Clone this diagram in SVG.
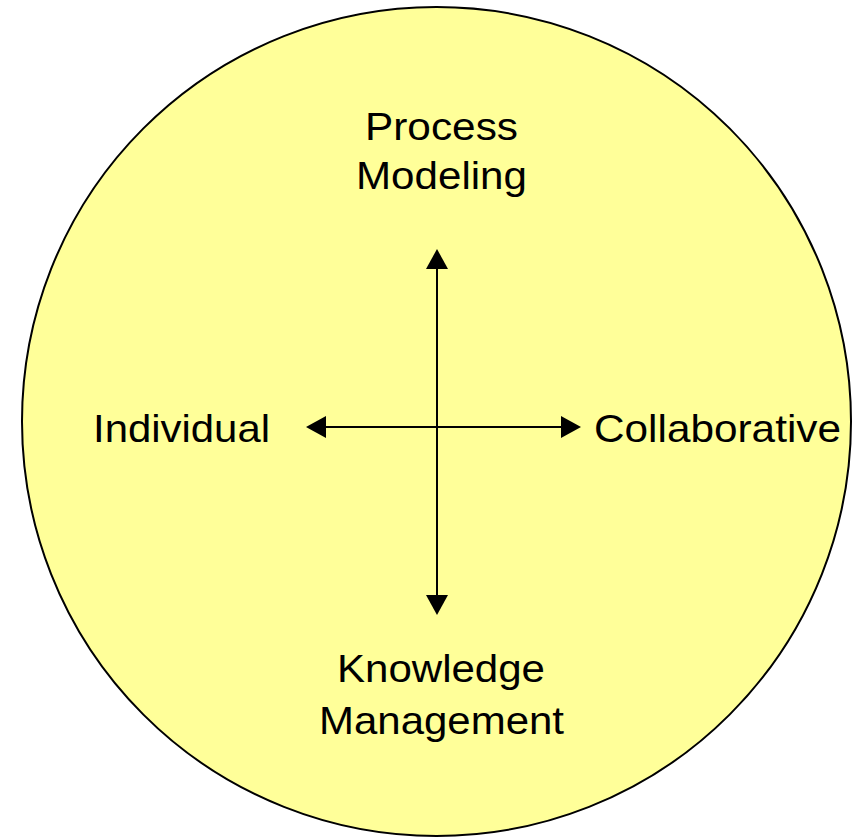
<svg xmlns="http://www.w3.org/2000/svg" width="852" height="837" viewBox="0 0 852 837">
<defs>
<style>
.lbl{font-family:"Liberation Sans",Arial,sans-serif;font-size:39px;fill:#000;text-anchor:middle}
.ax{stroke:#000;stroke-width:2;fill:none;marker-start:url(#ah);marker-end:url(#ah)}
</style>
<marker id="ah" viewBox="0 0 20 22" refX="0" refY="11" markerWidth="20" markerHeight="22" markerUnits="userSpaceOnUse" orient="auto-start-reverse">
<path d="M0,0 L20,11 L0,22 Z" fill="#000"/>
</marker>
</defs>
<rect width="852" height="837" fill="#fff"/>
<g id="circle">
<circle cx="436.5" cy="421.5" r="414.5" fill="#FFFF99" stroke="#000" stroke-width="2"/>
</g>
<g id="connectors">
<line class="ax" x1="437" y1="269" x2="437" y2="595"/>
<line class="ax" x1="326" y1="427" x2="561" y2="427"/>
</g>
<g id="process-modeling">
<text class="lbl" x="441.5" y="140" textLength="153" lengthAdjust="spacingAndGlyphs">Process</text>
<text class="lbl" x="441.5" y="188.5" textLength="171" lengthAdjust="spacingAndGlyphs">Modeling</text>
</g>
<g id="individual">
<text class="lbl" x="181.5" y="441.5" textLength="177" lengthAdjust="spacingAndGlyphs">Individual</text>
</g>
<g id="collaborative">
<text class="lbl" x="717.5" y="441.5" textLength="247" lengthAdjust="spacingAndGlyphs">Collaborative</text>
</g>
<g id="knowledge-management">
<text class="lbl" x="441" y="682" textLength="208" lengthAdjust="spacingAndGlyphs">Knowledge</text>
<text class="lbl" x="441.5" y="734" textLength="245" lengthAdjust="spacingAndGlyphs">Management</text>
</g>
</svg>
